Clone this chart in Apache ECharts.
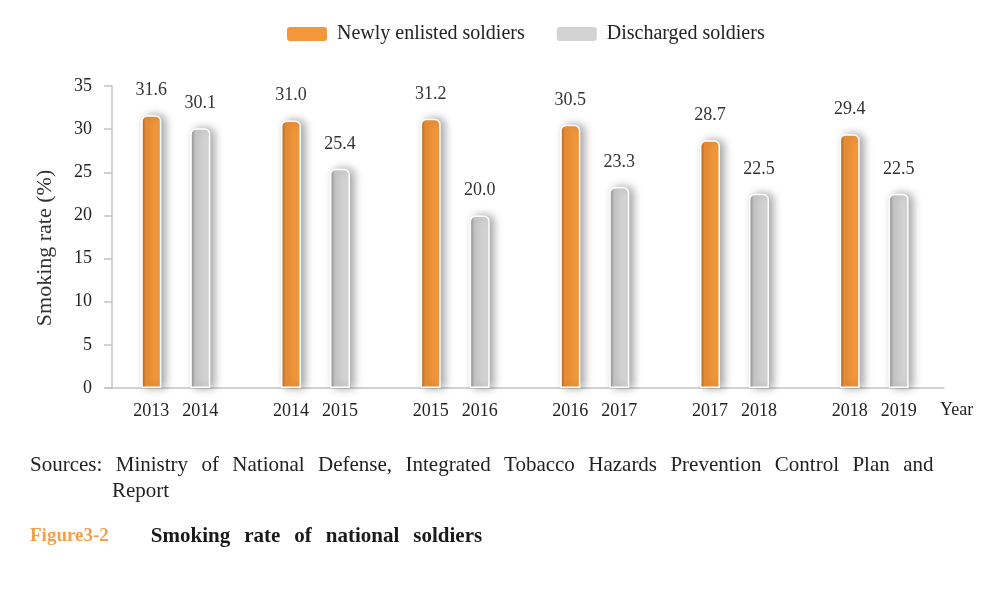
<!DOCTYPE html>
<html>
<head>
<meta charset="utf-8">
<script src="https://cdn.jsdelivr.net/npm/echarts@6/dist/echarts.min.js"></script>
<style>
html,body{margin:0;padding:0;background:#fff;}
#chart{width:993px;height:593px;}
</style>
</head>
<body>
<div id="chart"></div>
<script>
const newlyYears = ['2013', '2014', '2015', '2016', '2017', '2018'];
const dischargedYears = ['2014', '2015', '2016', '2017', '2018', '2019'];
const newlyEnlisted = [31.6, 31.0, 31.2, 30.5, 28.7, 29.4];
const discharged = [30.1, 25.4, 20.0, 23.3, 22.5, 22.5];
const yTicks = [0, 5, 10, 15, 20, 25, 30, 35];

const sourcesLine1 = 'Sources: Ministry of National Defense, Integrated Tobacco Hazards Prevention Control Plan and';
const sourcesLine2 = 'Report';
const figureNo = 'Figure3-2';
const figureTitle = 'Smoking rate of national soldiers';

const FONT = '"Liberation Serif", "DejaVu Serif", serif';
const categories = newlyYears.map((y, i) => y + '|' + dischargedYears[i]);

function spaced(text, style) {
  return text.split(' ').map(w => '{' + style + '|' + w + '}').join('{sp|' + ' ' + '}');
}

const chart = echarts.init(document.getElementById('chart'));

const orangeGrad = new echarts.graphic.LinearGradient(0, 0, 1, 0, [
  {offset: 0, color: '#a65a1c'},
  {offset: 0.22, color: '#ee9137'},
  {offset: 1, color: '#f39a3d'}
]);
const grayGrad = new echarts.graphic.LinearGradient(0, 0, 1, 0, [
  {offset: 0, color: '#858585'},
  {offset: 0.25, color: '#cdcdcd'},
  {offset: 1, color: '#d8d8d8'}
]);

function barStyle(grad) {
  return {
    color: grad,
    borderColor: '#ffffff',
    borderWidth: 1.5,
    borderRadius: [5, 5, 0, 0],
    shadowColor: 'rgba(0,0,0,0.35)',
    shadowBlur: 8,
    shadowOffsetX: 4,
    shadowOffsetY: 0
  };
}

const labelStyle = {
  show: true,
  position: 'top',
  distance: 16,
  color: '#333',
  fontFamily: FONT,
  fontSize: 18,
  formatter: p => p.value.toFixed(1)
};

chart.setOption({
  backgroundColor: '#ffffff',
  animation: false,
  textStyle: {fontFamily: FONT},
  title: [
    {
      text: spaced(sourcesLine1, 'w'),
      left: 25, top: 450,
      textStyle: {
        fontWeight: 'normal',
        rich: {
          w: {fontFamily: FONT, fontSize: 21, color: '#222', fontWeight: 'normal'},
          sp: {fontFamily: FONT, fontSize: 21, width: 13.4, fontWeight: 'normal'}
        }
      }
    },
    {
      text: sourcesLine2,
      left: 107, top: 476,
      textStyle: {fontFamily: FONT, fontSize: 21, fontWeight: 'normal', color: '#222'}
    },
    {
      text: '{o|' + figureNo + '}{g| }' + spaced(figureTitle, 'b'),
      left: 25, top: 521,
      textStyle: {
        rich: {
          o: {fontFamily: FONT, fontSize: 19, color: '#f2a04c', fontWeight: 'bold'},
          g: {fontFamily: FONT, fontSize: 19, width: 42},
          b: {fontFamily: FONT, fontSize: 21, color: '#1a1a1a', fontWeight: 'bold'},
          sp: {fontFamily: FONT, fontSize: 21, width: 14}
        }
      }
    }
  ],
  legend: {
    left: 280, top: 19,
    itemWidth: 42, itemHeight: 16, itemGap: 30,
    icon: 'roundRect',
    textStyle: {fontFamily: FONT, fontSize: 20, color: '#222', padding: [0, 0, 0, 4]},
    data: [
      {name: 'Newly enlisted soldiers', itemStyle: {color: '#f2973b'}},
      {name: 'Discharged soldiers', itemStyle: {color: '#d3d3d3'}}
    ]
  },
  grid: {left: 106, right: 49, top: 86, bottom: 205},
  xAxis: {
    type: 'category',
    data: categories,
    name: 'Year',
    nameLocation: 'end',
    nameGap: -4,
    nameTextStyle: {fontFamily: FONT, fontSize: 18, color: '#222', verticalAlign: 'top', padding: [13, 0, 0, 0]},
    axisLine: {lineStyle: {color: '#c4c4c4', width: 1.5}},
    axisTick: {show: false},
    axisLabel: {
      margin: 14,
      formatter: v => {
        const [a, b] = v.split('|');
        return '{a|' + a + '}{b|' + b + '}';
      },
      rich: {
        a: {fontFamily: FONT, fontSize: 18, color: '#222', width: 49, align: 'center'},
        b: {fontFamily: FONT, fontSize: 18, color: '#222', width: 49, align: 'center'}
      }
    }
  },
  yAxis: {
    type: 'value',
    min: 0, max: 35, interval: 5,
    offset: -6,
    name: 'Smoking rate (%)',
    nameLocation: 'middle',
    nameGap: 56,
    nameRotate: 90,
    nameTextStyle: {fontFamily: FONT, fontSize: 22, color: '#333', padding: [0, 22, 0, 0]},
    axisLine: {show: true, lineStyle: {color: '#c4c4c4', width: 1.5}},
    axisTick: {show: true, length: 8, lineStyle: {color: '#c4c4c4', width: 1.5}},
    splitLine: {show: false},
    axisLabel: {
      margin: 20,
      color: '#222', fontFamily: FONT, fontSize: 18,
      formatter: v => (yTicks.includes(v) ? String(v) : '')
    }
  },
  series: [
    {
      name: 'Newly enlisted soldiers',
      type: 'bar',
      data: newlyEnlisted,
      barWidth: 20,
      barGap: '145%',
      itemStyle: barStyle(orangeGrad),
      label: labelStyle
    },
    {
      name: 'Discharged soldiers',
      type: 'bar',
      data: discharged,
      barWidth: 20,
      barGap: '145%',
      itemStyle: barStyle(grayGrad),
      label: labelStyle
    }
  ]
});
</script>
</body>
</html>
